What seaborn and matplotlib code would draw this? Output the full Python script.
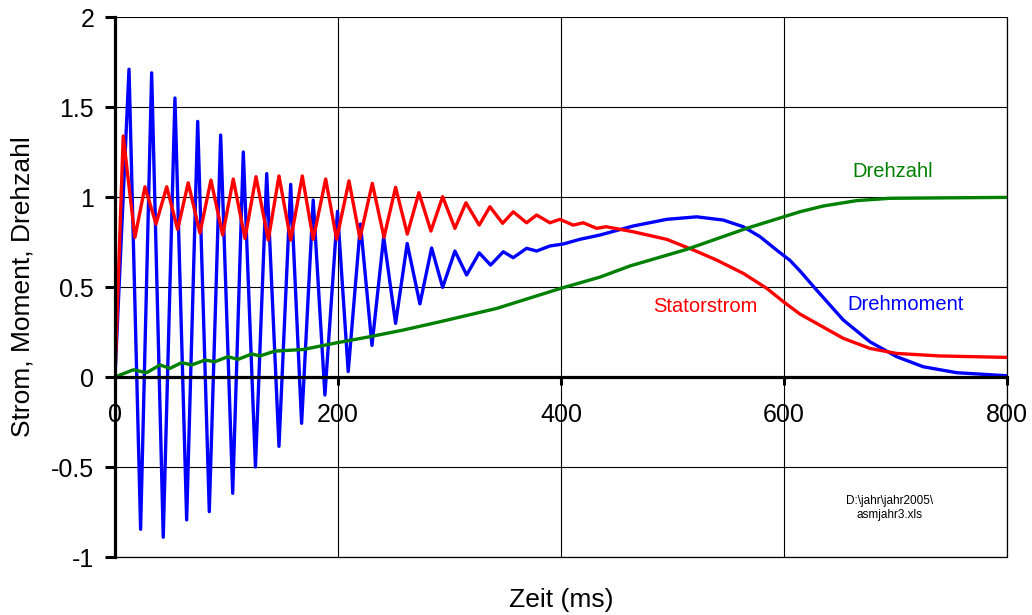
import pandas as pd
import matplotlib
matplotlib.use("Agg")
import matplotlib.pyplot as plt
import seaborn as sns

# ------------------------------------------------------
# Werte - Zeit in ms
# ------------------------------------------------------
drehmoment_t = [0, 12.6, 23.0, 32.9, 43.3, 53.8, 64.3, 74.2, 84.6, 94.8,
                105.6, 115.1, 126.0, 136.1, 147.1, 157.6, 167.4, 177.8, 188.3, 199.6,
                209.2, 220.2, 230.5, 241.0, 251.7, 262.1, 273.5, 284.0, 293.9, 304.9,
                315.4, 326.7, 336.9, 348.3, 357.2, 369.2, 378.2, 390.1, 402.1, 417.0,
                435.0, 464.8, 494.8, 521.7, 545.6, 563.5, 578.5, 593.5, 605.4, 614.3,
                629.3, 653.2, 677.1, 701.1, 724.9, 754.9, 800]
drehmoment = [0, 1.71, -0.846, 1.69, -0.89, 1.55, -0.794, 1.42, -0.748, 1.344,
              -0.646, 1.25, -0.50, 1.13, -0.385, 1.07, -0.257, 0.983, -0.10, 0.92,
              0.03, 0.85, 0.175, 0.778, 0.298, 0.742, 0.406, 0.717, 0.498, 0.70,
              0.567, 0.69, 0.622, 0.696, 0.663, 0.715, 0.70, 0.728, 0.739, 0.765,
              0.789, 0.839, 0.876, 0.89, 0.872, 0.835, 0.78, 0.705, 0.648, 0.59,
              0.483, 0.317, 0.196, 0.113, 0.057, 0.024, 0.007]

statorstrom_t = [0, 7.4, 17.9, 26.9, 36.8, 46.4, 56.2, 65.7, 76.2, 86.1,
                 96.6, 106.1, 116.6, 126.5, 137.5, 147.1, 157.6, 168.0, 177.8, 189.0,
                 198.8, 209.9, 219.7, 230.8, 241.3, 251.7, 262.2, 272.6, 283.4, 293.9,
                 304.9, 314.8, 326.7, 336.3, 347.7, 357.2, 369.2, 378.2, 390.1, 399.1,
                 411.0, 420.0, 432.0, 440.4, 464.8, 494.8, 518.7, 539.6, 563.5, 584.5,
                 599.4, 614.3, 629.3, 653.2, 677.1, 701.1, 739.9, 800]
statorstrom = [0, 1.339, 0.776, 1.057, 0.85, 1.057, 0.82, 1.079, 0.80, 1.094,
               0.789, 1.10, 0.77, 1.113, 0.761, 1.117, 0.761, 1.117, 0.765, 1.10,
               0.765, 1.09, 0.77, 1.076, 0.776, 1.054, 0.794, 1.024, 0.811, 1.002,
               0.826, 0.968, 0.844, 0.946, 0.854, 0.918, 0.857, 0.90, 0.857, 0.876,
               0.844, 0.857, 0.826, 0.835, 0.807, 0.765, 0.706, 0.65, 0.576, 0.493,
               0.419, 0.35, 0.298, 0.215, 0.159, 0.131, 0.117, 0.109]

drehzahl_t = [0, 16.4, 28.4, 40.4, 49.3, 59.8, 68.8, 80.7, 89.7, 101.3,
              110.3, 122.6, 130.0, 143.5, 168.9, 198.8, 228.7, 258.6, 291.5, 342.3,
              400.0, 435.0, 461.9, 512.7, 566.5, 614.3, 635.2, 665.2, 695.1, 800]
drehzahl = [0, 0.04, 0.024, 0.067, 0.048, 0.08, 0.067, 0.094, 0.085, 0.113,
            0.098, 0.128, 0.117, 0.144, 0.153, 0.19, 0.224, 0.261, 0.307, 0.381,
            0.493, 0.555, 0.617, 0.709, 0.826, 0.918, 0.95, 0.98, 0.993, 0.998]

x_ticks = [0, 200, 400, 600, 800]
y_ticks = [-1, -0.5, 0, 0.5, 1, 1.5, 2]
y_ticklabels = ["-1", "-0.5", "0", "0.5", "1", "1.5", "2"]

df = pd.concat([
    pd.DataFrame({"t": drehmoment_t, "wert": drehmoment, "groesse": "Drehmoment"}),
    pd.DataFrame({"t": statorstrom_t, "wert": statorstrom, "groesse": "Statorstrom"}),
    pd.DataFrame({"t": drehzahl_t, "wert": drehzahl, "groesse": "Drehzahl"}),
], ignore_index=True)

farben = {"Drehmoment": "#0000FF", "Statorstrom": "#FF0000", "Drehzahl": "#008000"}

# ------------------------------------------------------
# Plot
# ------------------------------------------------------
sns.set_style("white")
plt.rcParams["font.family"] = ["Liberation Sans", "DejaVu Sans"]
plt.rcParams["text.color"] = "black"
plt.rcParams["axes.labelcolor"] = "black"
plt.rcParams["xtick.color"] = "black"
plt.rcParams["ytick.color"] = "black"

fig = plt.figure(figsize=(10.32, 6.15), dpi=100)
ax = fig.add_axes([0.1114, 0.0943, 0.8643, 0.878])

sns.lineplot(data=df, x="t", y="wert", hue="groesse",
             hue_order=["Drehmoment", "Statorstrom", "Drehzahl"],
             palette=farben, estimator=None, sort=False, legend=False,
             linewidth=2.4, ax=ax, zorder=3)
for line in ax.lines:
    line.set_solid_joinstyle("round")
    line.set_solid_capstyle("round")

ax.set_xlim(0, 800)
ax.set_ylim(-1, 2)
ax.set_xticks(x_ticks)
ax.set_xticklabels([str(v) for v in x_ticks])
ax.set_yticks(y_ticks)
ax.set_yticklabels(y_ticklabels)

ax.grid(True, color="black", linewidth=0.8)
ax.set_axisbelow(True)
# Rahmen unten / rechts (Gitter am Rand)
ax.axhline(-1, color="black", linewidth=0.9, clip_on=False, zorder=1)
ax.axvline(800, color="black", linewidth=0.9, clip_on=False, zorder=1)

for s in ["top", "right"]:
    ax.spines[s].set_visible(False)
ax.spines["bottom"].set_position(("data", 0))
for s in ["bottom", "left"]:
    ax.spines[s].set_linewidth(2.3)
    ax.spines[s].set_color("black")
    ax.spines[s].set_zorder(4)

ax.tick_params(axis="y", direction="out", length=7, width=2.2, pad=8,
               labelsize=18, left=True, colors="black")
ax.tick_params(axis="x", direction="out", length=6, width=2.2, pad=13,
               labelsize=18, bottom=True, colors="black")

ax.set_xlabel("Zeit (ms)", fontsize=19, color="black")
ax.set_ylabel("Strom, Moment, Drehzahl", fontsize=19, color="black")
ax.xaxis.set_label_coords(0.5, -0.0796)
ax.xaxis.label.set_va("center")
ax.yaxis.set_label_coords(-0.104, 0.5)
ax.yaxis.label.set_va("center")

ax.text(697.3, 1.111, "Drehzahl", color="#008000", fontsize=14.5,
        ha="center", va="baseline")
ax.text(529.6, 0.361, "Statorstrom", color="#FF0000", fontsize=14.5,
        ha="center", va="baseline")
ax.text(709.4, 0.372, "Drehmoment", color="#0000FF", fontsize=14.5,
        ha="center", va="baseline")
ax.text(695, -0.728, "D:\\jahr\\jahr2005\\\nasmjahr3.xls", color="black",
        fontsize=8.5, ha="center", va="center", linespacing=1.25)

fig.savefig("out.png", dpi=100)
